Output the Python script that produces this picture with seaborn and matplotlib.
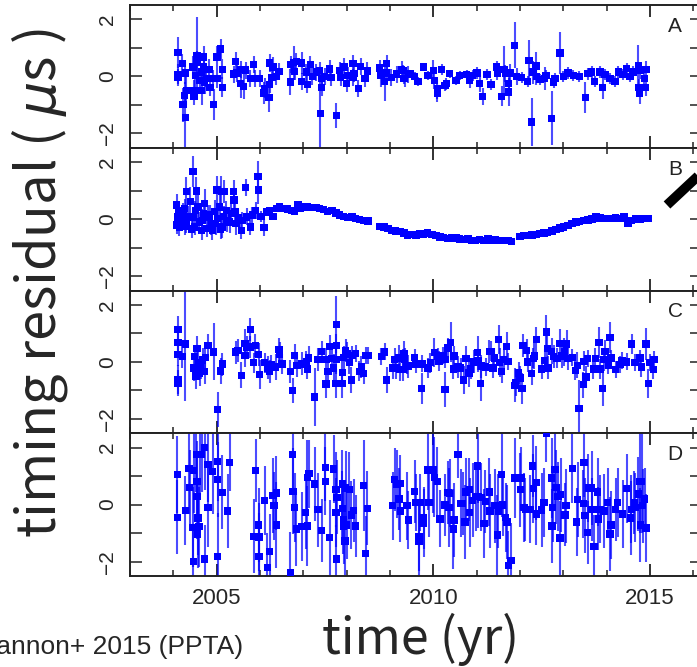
import numpy as np
import pandas as pd
import matplotlib
matplotlib.use("Agg")
import matplotlib.pyplot as plt
from matplotlib.lines import Line2D
from matplotlib.ticker import MultipleLocator
import seaborn as sns

# (time [yr], residual [us], error [us])
panel_a = [
    (2004.11, 0.83, 0.55), (2004.11, 0.07, 0.35), (2004.11, -0.04, 0.3),
    (2004.21, 0.45, 0.35), (2004.22, -0.99, 0.6), (2004.28, -1.43, 1.05),
    (2004.28, 0.12, 0.4), (2004.30, -0.49, 0.5), (2004.26, -0.66, 0.45),
    (2004.45, 0.33, 0.4), (2004.48, -0.49, 0.35), (2004.48, -0.70, 0.3),
    (2004.51, 0.04, 0.45), (2004.55, 0.74, 1.35), (2004.55, 0.48, 0.4),
    (2004.61, -0.14, 0.4), (2004.65, -0.49, 0.5), (2004.65, 0.15, 0.3),
    (2004.70, 0.68, 0.4), (2004.70, 0.33, 0.35), (2004.72, -0.22, 0.4),
    (2004.76, -0.08, 0.3), (2004.82, 0.25, 0.35), (2004.85, -0.40, 0.3),
    (2004.93, -0.98, 0.55), (2004.91, -0.07, 0.3), (2005.01, 0.68, 0.4),
    (2005.01, -0.07, 0.35), (2005.09, 0.96, 0.35), (2005.13, 0.25, 0.35),
    (2005.13, -0.38, 0.35), (2005.39, 0.08, 0.3), (2005.44, 0.51, 0.35),
    (2005.47, 0.12, 0.3), (2005.55, -0.26, 0.5), (2005.55, 0.25, 0.3),
    (2005.62, -0.35, 0.45), (2005.67, 0.22, 0.3), (2005.78, -0.07, 0.3),
    (2005.85, 0.42, 0.3), (2005.88, -0.07, 0.3), (2005.99, -0.07, 0.3),
    (2006.09, -0.58, 0.4), (2006.11, -0.42, 0.35), (2006.21, -0.75, 0.5),
    (2006.22, -0.29, 0.3), (2006.22, 0.47, 0.3), (2006.28, -0.04, 0.3),
    (2006.30, 0.33, 0.35), (2006.38, 0.00, 0.3), (2006.44, 0.17, 0.3),
    (2006.70, -0.20, 0.45), (2006.71, 0.42, 0.3), (2006.78, 0.48, 0.6),
    (2006.80, 0.17, 0.3), (2006.84, 0.53, 0.3), (2006.96, 0.47, 0.4),
    (2006.96, -0.18, 0.3), (2007.07, 0.15, 0.3), (2007.09, -0.28, 0.3),
    (2007.16, 0.42, 0.3), (2007.21, 0.00, 0.3), (2007.30, 0.15, 0.3),
    (2007.38, 0.21, 0.3), (2007.39, -1.31, 1.45), (2007.42, -0.38, 0.3),
    (2007.42, -0.07, 0.3), (2007.49, 0.00, 0.3), (2007.61, 0.26, 0.3),
    (2007.64, -0.03, 0.3), (2007.76, -1.37, 0.45), (2007.84, 0.21, 0.3),
    (2007.86, -0.03, 0.3), (2007.94, 0.33, 0.3), (2008.00, -0.26, 0.3),
    (2008.03, 0.03, 0.3), (2008.15, 0.45, 0.3), (2008.15, -0.03, 0.3),
    (2008.17, 0.09, 0.3), (2008.27, -0.43, 0.3), (2008.32, 0.35, 0.3),
    (2008.42, -0.08, 0.3), (2008.48, 0.19, 0.3), (2008.76, 0.29, 0.3),
    (2008.79, 0.03, 0.4), (2008.88, -0.18, 0.7), (2008.92, 0.45, 0.3),
    (2008.92, 0.12, 0.3), (2009.03, -0.04, 0.3), (2009.15, 0.08, 0.3),
    (2009.27, 0.25, 0.3), (2009.34, -0.08, 0.3), (2009.42, 0.06, 0.3),
    (2009.30, 0.21, 0.2), (2009.32, -0.08, 0.2), (2009.46, 0.08, 0.15),
    (2009.57, 0.00, 0.15), (2009.65, -0.18, 0.15), (2009.78, 0.33, 0.15),
    (2009.88, 0.03, 0.15), (2010.00, 0.21, 0.35), (2010.02, -0.14, 0.3),
    (2010.09, -0.43, 0.35), (2010.09, -0.61, 0.3), (2010.19, 0.25, 0.2),
    (2010.27, -0.31, 0.2), (2010.30, -0.26, 0.2), (2010.38, 0.09, 0.15),
    (2010.52, -0.14, 0.15), (2010.61, 0.03, 0.15), (2010.77, 0.07, 0.15),
    (2010.84, -0.14, 0.25), (2010.91, 0.03, 0.2), (2011.01, 0.12, 0.2),
    (2011.07, -0.26, 0.3), (2011.14, -0.70, 0.3), (2011.24, 0.07, 0.2),
    (2011.33, -0.29, 0.2), (2011.46, 0.33, 0.2), (2011.48, 0.12, 0.25),
    (2011.58, -0.70, 0.35), (2011.63, 0.23, 0.85), (2011.66, 0.09, 0.3),
    (2011.74, -0.26, 0.4), (2011.74, -0.55, 0.5), (2011.78, 0.12, 0.3),
    (2011.88, 1.09, 0.8), (2011.92, 0.00, 0.3), (2012.04, -0.04, 0.2),
    (2012.18, -0.18, 0.2), (2012.21, 0.56, 0.7), (2012.27, -1.60, 0.85),
    (2012.30, 0.15, 0.4), (2012.37, 0.36, 0.5), (2012.38, 0.00, 0.3),
    (2012.46, -0.10, 0.2), (2012.57, -0.08, 0.4), (2012.60, 0.03, 0.2),
    (2012.73, -1.47, 0.95), (2012.78, -0.20, 0.2), (2012.81, -0.08, 0.2),
    (2012.92, 0.82, 0.75), (2013.00, 0.00, 0.2), (2013.11, 0.12, 0.2),
    (2013.23, 0.03, 0.2), (2013.37, 0.00, 0.2), (2013.51, -0.73, 0.55),
    (2013.57, 0.09, 0.2), (2013.65, 0.15, 0.2), (2013.72, -0.18, 0.2),
    (2013.85, 0.15, 0.2), (2013.91, -0.38, 0.4), (2013.96, 0.07, 0.2),
    (2014.08, -0.08, 0.2), (2014.19, -0.18, 0.2), (2014.27, 0.15, 0.2),
    (2014.38, 0.07, 0.2), (2014.46, 0.27, 0.2), (2014.54, 0.00, 0.2),
    (2014.61, 0.15, 0.2), (2014.73, 0.39, 0.7), (2014.75, -0.38, 0.3),
    (2014.76, -0.61, 0.35), (2014.77, 0.21, 0.3), (2014.87, -0.08, 0.3),
    (2014.90, -0.40, 0.3), (2014.91, 0.23, 0.3),
]

panel_b = [
    (2004.08, 0.49, 0.4), (2004.08, -0.21, 0.3), (2004.09, 0.08, 0.35),
    (2004.12, 0.30, 0.3), (2004.14, -0.30, 0.3), (2004.18, -0.04, 0.3),
    (2004.22, 0.20, 0.35), (2004.26, 0.37, 0.35), (2004.28, -0.25, 0.3),
    (2004.30, 0.96, 0.5), (2004.30, -0.15, 0.35), (2004.34, 0.10, 0.35),
    (2004.39, 0.61, 0.5), (2004.42, -0.35, 0.3), (2004.45, 1.66, 0.55),
    (2004.45, 0.08, 0.3), (2004.49, -0.27, 0.3), (2004.51, 0.30, 0.35),
    (2004.53, 0.99, 0.5), (2004.57, 0.43, 0.4), (2004.60, -0.10, 0.35),
    (2004.65, -0.39, 0.35), (2004.67, -0.04, 0.4), (2004.70, 0.20, 0.35),
    (2004.72, 0.55, 0.5), (2004.78, -0.33, 0.3), (2004.80, 0.15, 0.35),
    (2004.84, 0.08, 0.4), (2004.88, -0.20, 0.35), (2004.90, -0.39, 0.35),
    (2004.95, 0.26, 0.4), (2004.98, -0.15, 0.4), (2005.01, 1.02, 0.5),
    (2005.02, 0.02, 0.35), (2005.07, 0.43, 0.45), (2005.09, -0.35, 0.35),
    (2005.11, 0.96, 0.55), (2005.13, -0.27, 0.4), (2005.16, 0.10, 0.35),
    (2005.18, 0.96, 0.4), (2005.22, 0.30, 0.35), (2005.24, -0.04, 0.4),
    (2005.30, -0.10, 0.4), (2005.34, 0.20, 0.35), (2005.39, 0.96, 0.4),
    (2005.40, 0.67, 0.4), (2005.42, 0.26, 0.4), (2005.45, -0.15, 0.4),
    (2005.50, 0.05, 0.3), (2005.57, -0.39, 0.3), (2005.59, -0.04, 0.3),
    (2005.67, 1.10, 0.3), (2005.69, 0.08, 0.3), (2005.78, -0.27, 0.3),
    (2005.82, 0.14, 0.3), (2005.90, 0.31, 0.3), (2005.95, 1.49, 0.55),
    (2005.96, 1.02, 0.5), (2006.02, 0.10, 0.2), (2006.09, -0.30, 0.3),
    (2006.15, 0.25, 0.15), (2006.22, 0.31, 0.12), (2006.30, 0.10, 0.12),
    (2006.38, 0.37, 0.12), (2006.45, 0.45, 0.12), (2006.55, 0.37, 0.12),
    (2006.63, 0.35, 0.12), (2006.72, 0.31, 0.12), (2006.80, 0.27, 0.12),
    (2006.88, 0.49, 0.12), (2006.92, 0.37, 0.12), (2007.01, 0.43, 0.12),
    (2007.10, 0.43, 0.12), (2007.19, 0.40, 0.12), (2007.29, 0.40, 0.12),
    (2007.38, 0.37, 0.12), (2007.47, 0.34, 0.12), (2007.56, 0.26, 0.12),
    (2007.66, 0.30, 0.12), (2007.75, 0.22, 0.12), (2007.84, 0.14, 0.12),
    (2007.93, 0.10, 0.12), (2008.03, 0.06, 0.12), (2008.12, 0.08, 0.12),
    (2008.21, 0.02, 0.12), (2008.30, -0.02, 0.12), (2008.39, -0.04, 0.12),
    (2008.49, -0.06, 0.12), (2008.76, -0.25, 0.12), (2008.86, -0.27, 0.12),
    (2008.95, -0.33, 0.12), (2009.04, -0.39, 0.12), (2009.13, -0.42, 0.12),
    (2009.23, -0.44, 0.12), (2009.32, -0.48, 0.12), (2009.41, -0.56, 0.12),
    (2009.50, -0.53, 0.12), (2009.60, -0.56, 0.12), (2009.69, -0.50, 0.12),
    (2009.78, -0.53, 0.12), (2009.87, -0.48, 0.12), (2009.97, -0.54, 0.12),
    (2010.06, -0.58, 0.12), (2010.15, -0.62, 0.12), (2010.24, -0.64, 0.12),
    (2010.33, -0.68, 0.12), (2010.43, -0.66, 0.12), (2010.52, -0.64, 0.12),
    (2010.61, -0.70, 0.12), (2010.70, -0.72, 0.12), (2010.80, -0.70, 0.12),
    (2010.89, -0.74, 0.12), (2010.98, -0.76, 0.12), (2011.07, -0.72, 0.12),
    (2011.17, -0.74, 0.12), (2011.26, -0.70, 0.12), (2011.35, -0.74, 0.12),
    (2011.44, -0.72, 0.12), (2011.54, -0.76, 0.12), (2011.63, -0.74, 0.12),
    (2011.72, -0.76, 0.12), (2011.81, -0.78, 0.12), (2012.00, -0.60, 0.12),
    (2012.09, -0.58, 0.12), (2012.18, -0.58, 0.12), (2012.28, -0.56, 0.12),
    (2012.37, -0.54, 0.12), (2012.46, -0.50, 0.12), (2012.55, -0.49, 0.12),
    (2012.64, -0.46, 0.12), (2012.74, -0.42, 0.12), (2012.83, -0.36, 0.12),
    (2012.92, -0.31, 0.12), (2013.01, -0.28, 0.12), (2013.11, -0.23, 0.12),
    (2013.20, -0.16, 0.12), (2013.29, -0.10, 0.12), (2013.38, -0.08, 0.12),
    (2013.48, -0.05, 0.12), (2013.57, -0.03, 0.12), (2013.66, 0.00, 0.12),
    (2013.75, 0.10, 0.12), (2013.85, 0.04, 0.12), (2013.94, 0.02, 0.12),
    (2014.03, 0.03, 0.12), (2014.12, 0.02, 0.12), (2014.21, 0.04, 0.12),
    (2014.31, 0.03, 0.12), (2014.40, 0.08, 0.12), (2014.49, -0.16, 0.12),
    (2014.58, -0.04, 0.12), (2014.68, 0.00, 0.12), (2014.77, 0.01, 0.12),
    (2014.86, 0.02, 0.12), (2014.95, 0.03, 0.12),
]

panel_c = [
    (2004.11, 1.13, 0.47), (2004.11, 0.67, 0.4), (2004.11, 0.26, 0.4),
    (2004.11, -0.62, 0.5), (2004.11, -0.74, 0.45), (2004.21, 0.18, 0.4),
    (2004.28, 0.63, 2.0), (2004.47, -0.21, 0.45), (2004.49, 0.19, 0.4),
    (2004.52, -0.50, 0.45), (2004.55, 0.46, 0.45), (2004.58, -0.04, 0.5),
    (2004.61, -0.39, 0.45), (2004.63, -0.21, 0.4), (2004.68, 0.07, 0.4),
    (2004.72, -0.33, 0.45), (2004.74, 0.16, 0.4), (2004.80, 0.57, 0.4),
    (2004.93, 0.35, 1.0), (2005.02, -1.67, 0.6), (2005.09, -0.32, 0.45),
    (2005.13, -0.08, 0.4), (2005.44, 0.34, 0.4), (2005.49, 0.40, 0.4),
    (2005.57, -0.47, 0.45), (2005.65, 0.64, 0.5), (2005.65, 0.22, 0.4),
    (2005.69, 0.52, 0.4), (2005.78, 1.13, 0.4), (2005.78, 0.52, 0.4),
    (2005.85, -0.03, 0.35), (2005.89, 0.58, 0.4), (2005.97, 0.26, 0.4),
    (2005.99, -0.44, 0.5), (2006.11, -0.03, 0.35), (2006.18, -0.21, 0.4),
    (2006.22, -0.33, 0.4), (2006.25, -0.10, 0.35), (2006.36, -0.18, 0.45),
    (2006.44, 0.43, 0.4), (2006.45, 0.28, 0.4), (2006.51, -0.07, 0.35),
    (2006.70, -0.33, 0.4), (2006.75, -1.00, 0.45), (2006.80, 0.22, 0.4),
    (2006.85, -0.13, 0.4), (2006.96, -0.07, 0.4), (2007.07, 0.02, 0.35),
    (2007.09, -0.25, 0.35), (2007.12, 0.14, 0.4), (2007.26, -1.23, 1.0),
    (2007.34, 0.09, 0.4), (2007.42, 0.37, 0.35), (2007.52, -0.78, 0.5),
    (2007.52, 0.09, 0.4), (2007.57, -0.33, 0.4), (2007.61, 0.53, 0.4),
    (2007.65, 0.12, 0.4), (2007.70, -0.21, 0.5), (2007.75, -0.76, 0.5),
    (2007.76, 1.31, 1.0), (2007.76, 0.58, 0.4), (2007.76, 0.09, 0.5),
    (2007.90, -0.76, 0.5), (2007.90, -0.37, 0.45), (2007.93, 0.16, 0.4),
    (2007.98, 0.39, 0.4), (2008.01, 0.28, 0.4), (2008.06, -0.03, 0.4),
    (2008.11, -0.64, 0.45), (2008.13, 0.22, 0.35), (2008.21, 0.29, 0.3),
    (2008.29, -0.33, 0.35), (2008.34, -0.18, 0.4), (2008.39, -0.41, 0.35),
    (2008.44, 0.22, 0.3), (2008.49, 0.22, 0.3), (2008.80, 0.18, 0.3),
    (2008.88, 0.35, 0.3), (2008.92, -0.64, 0.45), (2009.06, -0.21, 0.4),
    (2009.11, 0.09, 0.4), (2009.14, -0.21, 0.4), (2009.21, 0.14, 0.45),
    (2009.23, -0.26, 0.4), (2009.32, 0.29, 0.45), (2009.34, 0.09, 0.4),
    (2009.42, -0.15, 0.4), (2009.30, 0.14, 0.3), (2009.30, -0.26, 0.4),
    (2009.39, -0.13, 0.3), (2009.57, 0.16, 0.3), (2009.59, -0.10, 0.3),
    (2009.73, -0.94, 0.55), (2009.74, -0.07, 0.3), (2009.88, -0.21, 0.35),
    (2009.93, -0.03, 0.35), (2010.02, 0.32, 0.5), (2010.11, 0.20, 0.3),
    (2010.13, 0.02, 0.35), (2010.23, 0.22, 0.3), (2010.27, -0.97, 0.6),
    (2010.28, 0.09, 0.3), (2010.34, 0.49, 0.35), (2010.40, 0.69, 0.7),
    (2010.46, -0.25, 0.35), (2010.48, 0.20, 0.35), (2010.57, -0.18, 0.4),
    (2010.63, -0.21, 0.35), (2010.70, -0.64, 0.5), (2010.75, 0.12, 0.45),
    (2010.82, -0.39, 0.5), (2010.86, -0.25, 0.35), (2010.94, 0.00, 0.4),
    (2011.02, 0.32, 0.6), (2011.03, 0.05, 0.4), (2011.09, -0.76, 0.6),
    (2011.11, -0.15, 0.4), (2011.21, -0.18, 0.3), (2011.29, 0.37, 0.4),
    (2011.34, 0.37, 0.35), (2011.38, -0.21, 0.35), (2011.41, 0.14, 0.35),
    (2011.51, 0.78, 0.5), (2011.53, -0.03, 0.5), (2011.58, -0.33, 0.4),
    (2011.62, 0.09, 0.35), (2011.69, 0.53, 0.5), (2011.72, 0.02, 0.3),
    (2011.88, -0.82, 0.6), (2011.90, -0.74, 0.45), (2011.97, -0.39, 0.4),
    (2012.00, -0.56, 0.4), (2012.05, -0.94, 0.55), (2012.07, 0.58, 0.4),
    (2012.15, 0.40, 0.4), (2012.18, 0.00, 0.35), (2012.27, -0.41, 0.4),
    (2012.31, 0.12, 0.35), (2012.33, 0.20, 0.45), (2012.38, 0.78, 0.45),
    (2012.50, -0.25, 0.35), (2012.57, 0.05, 0.4), (2012.61, 1.05, 0.6),
    (2012.63, 0.46, 0.45), (2012.65, -0.21, 0.4), (2012.73, 0.37, 0.45),
    (2012.78, 0.18, 0.4), (2012.85, 0.12, 0.35), (2012.92, 0.64, 0.5),
    (2012.96, 0.20, 0.4), (2013.02, 0.35, 0.5), (2013.08, 0.62, 0.5),
    (2013.11, 0.12, 0.4), (2013.21, 0.15, 0.3), (2013.28, -0.30, 0.35),
    (2013.32, -0.12, 0.45), (2013.36, -1.64, 1.0), (2013.46, -0.80, 0.45),
    (2013.48, 0.02, 0.35), (2013.52, -0.53, 0.4), (2013.56, 0.12, 0.3),
    (2013.69, -0.25, 0.35), (2013.74, 0.12, 0.35), (2013.82, 0.67, 0.55),
    (2013.85, -0.25, 0.35), (2013.91, -0.94, 0.6), (2013.93, 0.09, 0.4),
    (2013.96, 0.37, 0.4), (2014.04, -0.13, 0.3), (2014.08, 0.86, 0.55),
    (2014.10, 0.13, 0.3), (2014.21, -0.26, 0.3), (2014.31, -0.10, 0.3),
    (2014.35, 0.05, 0.3), (2014.46, 0.00, 0.3), (2014.58, 0.63, 0.35),
    (2014.65, -0.03, 0.3), (2014.77, 0.13, 0.3), (2014.80, -0.18, 0.35),
    (2014.91, 0.62, 0.55), (2014.96, -0.76, 0.5), (2015.00, -0.03, 0.3),
    (2015.08, -0.26, 0.35), (2015.09, 0.09, 0.3),
]

panel_d = [
    (2004.09, 1.05, 1.35), (2004.09, -0.44, 1.3), (2004.28, -0.20, 1.2),
    (2004.36, 1.26, 1.6), (2004.38, 0.61, 1.3), (2004.45, -0.80, 1.4),
    (2004.46, -1.99, 1.3), (2004.47, 1.19, 1.5), (2004.53, 1.75, 1.3),
    (2004.55, 0.82, 1.4), (2004.55, 0.29, 1.5), (2004.56, -1.03, 1.2),
    (2004.57, -0.47, 1.3), (2004.59, -0.77, 1.4), (2004.61, 1.75, 1.4),
    (2004.65, 1.75, 1.3), (2004.72, 2.01, 1.5), (2004.72, -1.91, 1.2),
    (2004.80, 1.40, 1.3), (2004.80, -0.10, 1.4), (2004.91, 1.16, 1.5),
    (2005.02, 1.52, 1.4), (2005.02, 0.88, 1.3), (2005.02, -1.81, 1.5),
    (2005.13, 0.43, 1.3), (2005.25, -0.22, 1.3), (2005.30, 1.48, 1.0),
    (2005.85, -1.11, 1.3), (2005.90, 1.19, 1.1), (2005.97, -0.71, 1.3),
    (2005.98, -1.13, 1.2), (2005.98, -1.81, 1.5), (2006.11, 0.15, 1.2),
    (2006.17, -2.20, 1.2), (2006.22, -1.64, 1.3), (2006.30, 0.32, 1.3),
    (2006.32, -0.04, 1.2), (2006.38, 0.41, 1.3), (2006.38, -0.71, 1.5),
    (2006.70, -2.37, 1.4), (2006.75, 1.75, 1.4), (2006.76, 0.47, 1.5),
    (2006.80, -0.10, 1.2), (2006.84, -0.85, 1.3), (2006.96, -0.77, 1.2),
    (2007.05, -0.27, 1.3), (2007.09, 0.96, 1.3), (2007.09, -0.75, 1.4),
    (2007.13, 1.08, 1.2), (2007.26, 0.72, 1.3), (2007.34, -0.18, 1.3),
    (2007.42, -0.91, 1.1), (2007.51, 1.31, 1.2), (2007.51, 0.82, 1.2),
    (2007.61, -1.15, 1.3), (2007.70, 1.25, 1.2), (2007.75, 0.53, 1.3),
    (2007.75, -0.27, 1.2), (2007.76, -1.91, 1.2), (2007.78, 0.26, 1.3),
    (2007.90, 0.72, 1.2), (2007.90, -0.13, 1.3), (2007.92, -0.52, 1.2),
    (2007.93, -0.77, 1.3), (2007.96, -1.27, 1.2), (2007.98, 0.58, 1.3),
    (2008.00, -0.71, 1.2), (2008.06, 0.53, 1.3), (2008.11, -0.36, 1.2),
    (2008.16, -0.20, 1.1), (2008.21, -0.75, 1.1), (2008.39, 0.68, 1.6),
    (2008.44, -1.71, 1.3), (2008.48, -0.13, 1.3), (2009.06, -0.04, 1.2),
    (2009.11, 0.88, 1.1), (2009.16, 0.72, 1.2), (2009.21, 0.20, 1.1),
    (2009.24, -0.22, 1.1), (2009.39, -0.04, 1.2), (2009.42, -0.54, 1.0),
    (2009.23, 0.74, 1.0), (2009.57, 0.47, 1.1), (2009.59, 0.08, 1.0),
    (2009.67, -1.11, 1.2), (2009.67, -1.29, 1.3), (2009.69, 0.08, 1.0),
    (2009.78, -0.47, 1.1), (2009.78, -0.65, 1.2), (2009.88, 1.21, 1.4),
    (2009.90, 0.08, 1.2), (2010.00, 1.21, 1.5), (2010.02, 0.96, 1.4),
    (2010.09, 0.82, 1.2), (2010.15, -0.50, 1.0), (2010.27, -0.01, 1.1),
    (2010.34, 0.43, 1.1), (2010.36, -0.10, 1.4), (2010.38, 0.40, 1.2),
    (2010.46, -0.85, 1.4), (2010.48, -0.54, 1.3), (2010.57, 1.75, 0.8),
    (2010.64, 0.05, 1.2), (2010.68, 0.05, 1.1), (2010.73, -0.61, 1.3),
    (2010.75, 0.44, 1.2), (2010.83, 0.53, 1.1), (2010.84, -0.27, 1.2),
    (2010.91, 0.15, 1.3), (2010.98, 0.29, 1.2), (2011.02, 1.35, 1.3),
    (2011.04, 0.29, 1.1), (2011.10, 0.26, 1.2), (2011.17, -0.66, 1.2),
    (2011.20, 0.11, 1.1), (2011.29, 0.44, 1.2), (2011.31, -0.22, 1.3),
    (2011.42, -0.04, 1.3), (2011.48, -1.06, 1.4), (2011.50, -0.22, 1.3),
    (2011.58, 1.05, 1.5), (2011.60, -0.01, 1.1), (2011.67, -0.45, 1.2),
    (2011.70, -0.61, 1.3), (2011.73, -2.14, 1.2), (2011.79, -1.96, 1.3),
    (2011.88, 0.93, 1.4), (2012.01, 0.52, 1.3), (2012.02, 0.93, 1.1),
    (2012.09, -0.10, 1.2), (2012.12, -0.16, 1.1), (2012.24, -0.16, 1.2),
    (2012.29, 1.35, 1.1), (2012.31, 0.56, 1.2), (2012.38, 0.77, 1.3),
    (2012.38, -0.33, 1.1), (2012.50, -0.19, 1.3), (2012.61, 2.48, 1.0),
    (2012.55, 0.08, 1.2), (2012.73, 0.93, 1.4), (2012.74, -0.75, 1.3),
    (2012.75, -0.10, 1.2), (2012.81, 1.23, 1.4), (2012.83, 0.61, 1.3),
    (2012.88, 0.29, 1.2), (2012.92, -1.17, 1.3), (2012.94, 0.35, 1.3),
    (2013.04, -0.36, 1.1), (2013.06, -0.04, 1.3), (2013.21, 1.26, 1.2),
    (2013.31, -0.61, 1.2), (2013.33, 0.18, 1.3), (2013.46, 0.03, 1.2),
    (2013.48, 1.48, 1.2), (2013.50, -0.38, 1.3), (2013.56, -0.98, 1.1),
    (2013.58, 0.58, 1.2), (2013.65, 0.58, 1.3), (2013.66, -0.16, 1.1),
    (2013.71, -1.47, 1.1), (2013.79, 0.44, 1.2), (2013.81, -0.50, 1.1),
    (2013.85, -0.16, 1.2), (2013.94, -0.22, 1.3), (2014.02, 0.08, 1.2),
    (2014.08, -1.03, 1.3), (2014.10, -0.71, 1.2), (2014.21, -0.16, 1.1),
    (2014.25, 0.08, 1.2), (2014.37, -0.33, 1.2), (2014.46, 0.56, 1.2),
    (2014.55, -0.47, 1.3), (2014.57, -0.16, 1.2), (2014.64, 0.08, 1.1),
    (2014.66, -0.10, 1.2), (2014.73, 0.37, 1.3), (2014.77, 0.80, 1.8),
    (2014.78, -0.71, 1.3), (2014.81, 0.80, 1.8), (2014.83, -0.04, 1.3),
    (2014.88, 0.20, 1.1), (2014.91, -0.82, 1.2),
]

panel_names = ["A", "B", "C", "D"]
year_ticks = [2005, 2010, 2015]
resid_ticks = [-2, 0, 2]

sns.set_theme(style="ticks")
plt.rcParams["font.family"] = ["Liberation Sans", "DejaVu Sans"]

W, H = 697, 667
fig = plt.figure(figsize=(W / 100, H / 100), dpi=100)

left_px, right_px = 130, 702
top_px, panel_px = 5, 142.75
blue = "#0000ff"

axes = []
for i, (name, rows) in enumerate(zip(panel_names, [panel_a, panel_b, panel_c, panel_d])):
    df = pd.DataFrame(rows, columns=["t", "res", "err"])
    y0 = top_px + (i + 1) * panel_px
    ax = fig.add_axes([left_px / W, 1 - y0 / H, (right_px - left_px) / W, panel_px / H])
    axes.append(ax)

    ax.errorbar(df["t"], df["res"], yerr=df["err"], fmt="none",
                ecolor=blue, elinewidth=1.5, alpha=0.7, capsize=0, zorder=2)
    sns.scatterplot(data=df, x="t", y="res", ax=ax, marker="s", s=28,
                    color=blue, edgecolor="none", linewidth=0, zorder=3)

    ax.set_xlim(2003.0, 2016.2)
    ax.set_ylim(-2.5, 2.5)
    ax.set_xlabel("")
    ax.set_ylabel("")

    ax.xaxis.set_major_locator(MultipleLocator(5))
    ax.xaxis.set_minor_locator(MultipleLocator(1))
    ax.set_yticks(resid_ticks)
    ax.yaxis.set_minor_locator(MultipleLocator(1))

    ax.tick_params(axis="x", which="major", direction="in", top=True, bottom=True,
                   length=8.5, width=1.3, color="#222222", labelsize=16, pad=9)
    ax.tick_params(axis="x", which="minor", direction="in", top=True, bottom=True,
                   length=4.3, width=1.1, color="#222222")
    ax.tick_params(axis="y", which="both", direction="in", left=True, right=True,
                   length=8.5, width=1.1, color="#222222", labelsize=15, pad=9)
    for lab in ax.get_yticklabels():
        lab.set_rotation(90)
        lab.set_va("center")

    if i < 3:
        ax.tick_params(axis="x", labelbottom=False)
    else:
        ax.set_xticks(year_ticks)

    for sp in ax.spines.values():
        sp.set_linewidth(1.4)
        sp.set_color("#222222")

    ax.text(0.953, 0.85, name, transform=ax.transAxes, fontsize=15,
            ha="center", va="center", color="#222222")

big_font = ["Noto Sans CJK JP", "DejaVu Sans"]
fig.text(40 / W, 1 - 283 / H, "timing residual ( $\\mu$s )", rotation=90,
         ha="center", va="center", fontsize=39, family=big_font)
fig.text(421 / W, 1 - 639 / H, "time (yr)", ha="center", va="center",
         fontsize=36, family=big_font)
# the reference is cropped, so the start of this credit line runs off the left edge
fig.text(243 / W, 1 - 647 / H, "Shannon+ 2015 (PPTA)", ha="right", va="center",
         fontsize=19)

# piece of the neighbouring drawing that pokes into the frame
fig.add_artist(Line2D([667 / W, 712 / W], [1 - 205 / H, 1 - 163 / H],
                      transform=fig.transFigure, color="black", linewidth=7,
                      solid_capstyle="butt"))

fig.savefig("out.png", dpi=100)
